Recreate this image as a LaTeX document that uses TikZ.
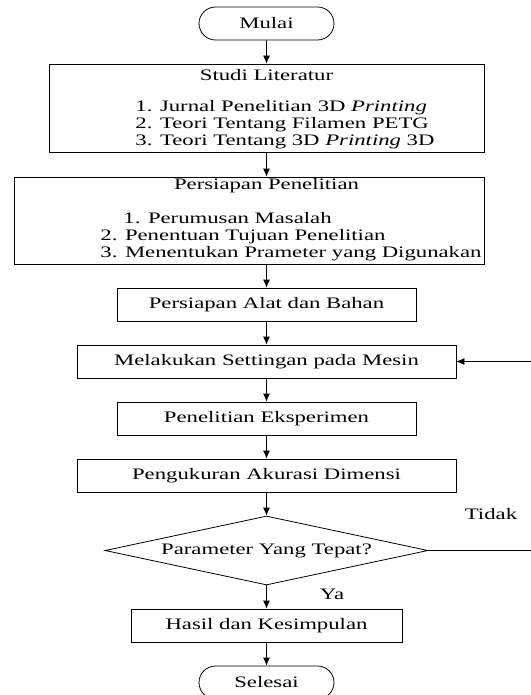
\documentclass[tikz,border=0pt]{standalone}
\usepackage{fontspec}
\setmainfont{Liberation Serif}[FakeStretch=1.42]
\usetikzlibrary{shapes.geometric,shapes.misc,arrows.meta}
\begin{document}
\begin{tikzpicture}[>={Latex[length=8pt,width=7pt]},x=1pt,y=-1pt,line width=0.8pt,
        font=\fontsize{16}{17}\selectfont,
        kotak/.style={draw,rectangle,inner sep=0pt},
        ujung/.style={draw,rounded rectangle,minimum width=135pt,minimum height=33pt,inner sep=0pt},
        putusan/.style={draw,diamond,aspect=4.68,minimum width=323pt,minimum height=69pt,inner sep=0pt},
        isi/.style={anchor=west,align=left,inner sep=0pt}]
            \useasboundingbox (0,0) rectangle (530,695);
            \node[ujung] (mulai) at (266.5,23.5) {Mulai};
            % studi literatur
            \node[kotak,minimum width=435pt,minimum height=88pt] (studi) at (266.5,108) {};
            \node (studijudul) at (266.5,75) {Studi Literatur};
            \node[isi] (studiisi) at (135,125) {1. Jurnal Penelitian 3D \textit{Printing}\\
                2. Teori Tentang Filamen PETG\\3. Teori Tentang 3D \textit{Printing} 3D};
            % persiapan penelitian
            \node[kotak,minimum width=470pt,minimum height=87pt] (persiapan) at (249,220.5) {};
            \node (persiapanjudul) at (266.5,186) {Persiapan Penelitian};
            \node[isi] (persiapanisi) at (100,237) {\hspace*{23pt}1. Perumusan Masalah\\
                2. Penentuan Tujuan Penelitian\\3. Menentukan Prameter yang Digunakan};
            \node[kotak,minimum width=299pt,minimum height=33pt] (alat) at (266.5,304.5) {Persiapan Alat dan Bahan};
            \node[kotak,minimum width=379pt,minimum height=33pt] (setting) at (266.5,361.5) {Melakukan Settingan pada Mesin};
            \node[kotak,minimum width=299pt,minimum height=33pt] (eksperimen) at (266.5,418.5) {Penelitian Eksperimen};
            \node[kotak,minimum width=379pt,minimum height=33pt] (ukur) at (266.5,475.5) {Pengukuran Akurasi Dimensi};
            \node[putusan] (cek) at (266.5,550.5) {Parameter Yang Tepat?};
            \node[kotak,minimum width=271pt,minimum height=33pt] (hasil) at (266.5,625.5) {Hasil dan Kesimpulan};
            \node[ujung] (selesai) at (266.5,682.5) {Selesai};
            \coordinate (balik) at (545,550.5);
            % panah
            \draw[->] (mulai) -- (studi);
            \draw[->] (studi.south) -- (studi.south |- persiapan.north);
            \draw[->] (persiapan.south -| alat.north) -- (alat);
            \draw[->] (alat) -- (setting);
            \draw[->] (setting) -- (eksperimen);
            \draw[->] (eksperimen) -- (ukur);
            \draw[->] (ukur) -- (cek);
            \draw[->] (cek) -- (hasil);
            \draw[->] (hasil) -- (selesai);
            \draw[->] (cek.east) -- (balik) |- (setting.east);
            \node (tidak) at (491,514) {Tidak};
            \node (ya) at (332,594) {Ya};
        \end{tikzpicture}
\end{document}
